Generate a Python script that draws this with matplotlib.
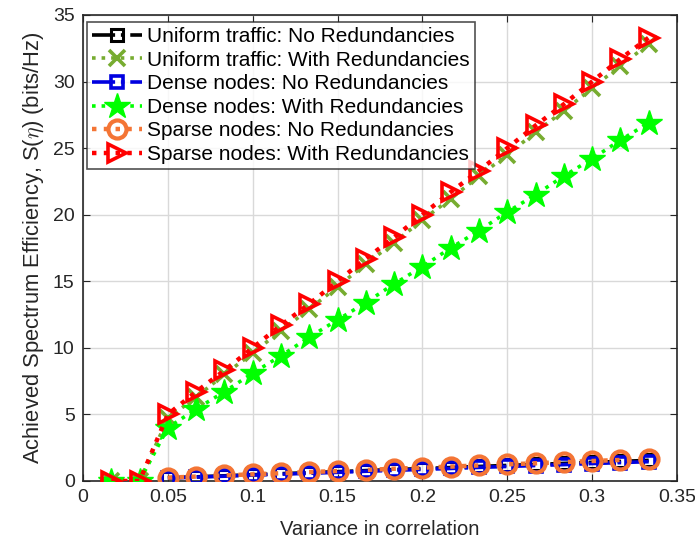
import matplotlib
matplotlib.use("Agg")
import matplotlib.pyplot as plt
import numpy as np

plt.rcParams['font.family'] = ['Liberation Sans', 'DejaVu Sans']
plt.rcParams['mathtext.fontset'] = 'cm'

# variance in correlation (k/60)
x_all = [1/60, 2/60, 3/60, 4/60, 5/60, 6/60, 7/60, 8/60, 9/60, 10/60,
         11/60, 12/60, 13/60, 14/60, 15/60, 16/60, 17/60, 18/60, 19/60, 20/60]
x_nr = x_all[2:]

uniform_no = [0.24, 0.31, 0.39, 0.47, 0.55, 0.62, 0.70, 0.78, 0.86, 0.93,
              1.01, 1.09, 1.17, 1.24, 1.32, 1.40, 1.47, 1.55]
uniform_with = [0.0, 0.0, 4.7, 6.3, 8.0, 9.6, 11.3, 12.9, 14.6, 16.3,
                17.9, 19.6, 21.2, 22.9, 24.5, 26.2, 27.8, 29.5, 31.2, 32.8]
dense_no = [0.22, 0.29, 0.36, 0.44, 0.51, 0.58, 0.65, 0.73, 0.80, 0.87,
            0.94, 1.02, 1.09, 1.16, 1.23, 1.31, 1.38, 1.45]
dense_with = [0.0, 0.0, 4.0, 5.4, 6.7, 8.1, 9.4, 10.8, 12.1, 13.4,
              14.8, 16.1, 17.5, 18.8, 20.2, 21.5, 22.9, 24.2, 25.6, 26.9]
sparse_no = [0.25, 0.33, 0.42, 0.50, 0.58, 0.67, 0.75, 0.83, 0.92, 1.00,
             1.08, 1.17, 1.25, 1.33, 1.42, 1.50, 1.58, 1.66]
sparse_with = [0.0, 0.0, 5.0, 6.7, 8.3, 10.0, 11.7, 13.3, 15.0, 16.7,
               18.3, 20.0, 21.7, 23.3, 25.0, 26.7, 28.3, 30.0, 31.7, 33.3]

labels = ['Uniform traffic: No Redundancies',
          'Uniform traffic: With Redundancies',
          'Dense nodes: No Redundancies',
          'Dense nodes: With Redundancies',
          'Sparse nodes: No Redundancies',
          'Sparse nodes: With Redundancies']

fig = plt.figure(figsize=(6.95, 5.48), dpi=100)
ax = fig.add_axes([0.1194, 0.1223, 0.8547, 0.8504])

lw = 2.6
ax.plot(x_nr, uniform_no, color='black', linestyle='-.', linewidth=lw,
        marker='s', markersize=9, markerfacecolor='none', markeredgewidth=2.2,
        label=labels[0], zorder=3)
ax.plot(x_all, uniform_with, color='#77ac30', linestyle=':', linewidth=lw,
        marker='x', markersize=11, markeredgewidth=2.6,
        label=labels[1], zorder=3)
ax.plot(x_nr, dense_no, color='#0000e0', linestyle='-.', linewidth=lw,
        marker='s', markersize=9, markerfacecolor='none', markeredgewidth=2.6,
        label=labels[2], zorder=3)
ax.plot(x_all, dense_with, color='#00ff00', linestyle=':', linewidth=lw,
        marker='*', markersize=19, markeredgewidth=1,
        label=labels[3], zorder=3)
ax.plot(x_nr, sparse_no, color='#f47535', linestyle=':', linewidth=lw + 0.6,
        marker='o', markersize=13, markerfacecolor='none', markeredgewidth=3,
        label=labels[4], zorder=4)
ax.plot(x_all, sparse_with, color='#ff0000', linestyle=':', linewidth=lw + 0.6,
        marker='>', markersize=13, markerfacecolor='none', markeredgewidth=2.6,
        label=labels[5], zorder=4)

ax.set_xlim(0, 0.35)
ax.set_ylim(0, 35)
ax.set_xticks(np.arange(0, 0.351, 0.05))
ax.set_xticklabels(['0', '0.05', '0.1', '0.15', '0.2', '0.25', '0.3', '0.35'])
ax.set_yticks(np.arange(0, 36, 5))
ax.grid(True, color='#d9d9d9', linewidth=1)
ax.set_axisbelow(True)
ax.tick_params(direction='in', top=True, right=True, length=5,
               labelsize=14, colors='#262626', pad=6)
for s in ax.spines.values():
    s.set_color('#262626')
    s.set_linewidth(1.2)

ax.set_xlabel('Variance in correlation', fontsize=14.5, color='#262626', labelpad=10)
ax.set_ylabel(r'Achieved Spectrum Efficiency, S($\eta$) (bits/Hz)',
              fontsize=15.8, color='#262626', labelpad=5)

leg = ax.legend(loc='upper left', bbox_to_anchor=(0.006, 0.985), fontsize=15,
                frameon=True, fancybox=False, edgecolor='#262626',
                handlelength=2.4, handletextpad=0.25, borderpad=0.25,
                labelspacing=0.22, borderaxespad=0.0)
leg.get_frame().set_linewidth(1.2)
leg.set_zorder(10)

fig.savefig('out.png', dpi=100)
